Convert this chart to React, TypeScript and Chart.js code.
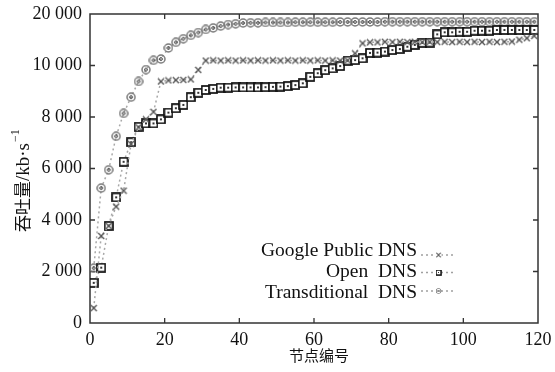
import React, { useEffect, useRef } from 'react';
import { Chart, registerables } from 'chart.js';

Chart.register(...registerables);

const nodes = [1, 3, 5, 7, 9, 11, 13, 15, 17, 19, 21, 23, 25, 27, 29, 31, 33, 35, 37, 39, 41, 43, 45, 47, 49, 51, 53, 55, 57, 59, 61, 63, 65, 67, 69, 71, 73, 75, 77, 79, 81, 83, 85, 87, 89, 91, 93, 95, 97, 99, 101, 103, 105, 107, 109, 111, 113, 115, 117, 119];

const googleDns = [580, 3380, 3770, 4520, 5140, 6950, 7600, 7910, 8200, 9380, 9420, 9430, 9440, 9460, 9830, 10190, 10200, 10190, 10200, 10190, 10200, 10190, 10200, 10190, 10200, 10190, 10200, 10190, 10200, 10190, 10200, 10190, 10200, 10190, 10200, 10470, 10860, 10900, 10900, 10920, 10910, 10920, 10910, 10920, 10910, 10920, 10910, 10920, 10910, 10920, 10910, 10920, 10910, 10920, 10910, 10920, 10930, 11000, 11060, 11150];

const openDns = [1560, 2150, 3770, 4880, 6260, 7020, 7620, 7750, 7750, 7910, 8170, 8340, 8470, 8770, 8940, 9050, 9090, 9140, 9140, 9150, 9150, 9150, 9150, 9160, 9170, 9180, 9200, 9240, 9310, 9560, 9700, 9820, 9890, 9980, 10190, 10210, 10280, 10490, 10500, 10540, 10600, 10640, 10730, 10800, 10880, 10890, 11210, 11290, 11290, 11310, 11310, 11350, 11350, 11350, 11380, 11380, 11380, 11380, 11380, 11380];

const transDns = [2130, 5240, 5950, 7250, 8140, 8770, 9380, 9840, 10200, 10250, 10680, 10900, 11040, 11170, 11280, 11400, 11460, 11530, 11590, 11620, 11650, 11660, 11660, 11670, 11670, 11670, 11670, 11680, 11680, 11680, 11680, 11680, 11680, 11690, 11690, 11690, 11690, 11690, 11690, 11700, 11700, 11700, 11700, 11700, 11700, 11700, 11700, 11700, 11700, 11700, 11700, 11700, 11700, 11700, 11700, 11700, 11700, 11700, 11700, 11700];

const xTickValues = [0, 20, 40, 60, 80, 100, 120];
const yTickLabels = ['0', '2 000', '4 000', '6 000', '8 000', '10 000', '20 000'];
const seriesNames = ['Google Public DNS', 'Open  DNS', 'Transditional  DNS'];
const xTitle = '节点编号';
const yTitleMain = '吞吐量';
const yTitleUnit = '/kb·s';
const yTitleSup = '−1';

const SERIF = "'Liberation Serif', 'Noto Sans CJK SC', serif";
const CJK = "'Noto Sans CJK SC', serif";

function makeCross(size: number) {
  const c = document.createElement('canvas');
  c.width = size; c.height = size;
  const g = c.getContext('2d')!;
  g.strokeStyle = '#555';
  g.lineWidth = 1.4;
  g.beginPath();
  g.moveTo(1, 1); g.lineTo(size - 1, size - 1);
  g.moveTo(size - 1, 1); g.lineTo(1, size - 1);
  g.stroke();
  return c;
}

function makeSquare(size: number) {
  const c = document.createElement('canvas');
  c.width = size; c.height = size;
  const g = c.getContext('2d')!;
  g.fillStyle = '#ffffff';
  g.fillRect(1, 1, size - 2, size - 2);
  g.strokeStyle = '#111';
  g.lineWidth = 1.7;
  g.strokeRect(1, 1, size - 2, size - 2);
  g.fillStyle = '#333';
  const m = size / 2;
  g.fillRect(m - 1, m - 1, 2, 2);
  return c;
}

function makeCircle(size: number) {
  const c = document.createElement('canvas');
  c.width = size; c.height = size;
  const g = c.getContext('2d')!;
  const m = size / 2;
  g.strokeStyle = '#7a7a7a';
  g.lineWidth = 1.5;
  g.beginPath();
  g.arc(m, m, m - 1, 0, Math.PI * 2);
  g.stroke();
  g.strokeStyle = '#3a3a3a';
  g.lineWidth = 1;
  g.beginPath();
  g.arc(m, m, 1.4, 0, Math.PI * 2);
  g.stroke();
  return c;
}

export default function App() {
  const ref = useRef<HTMLCanvasElement | null>(null);

  useEffect(() => {
    const canvas = ref.current;
    if (!canvas) return;
    const crossImg = makeCross(8);
    const squareImg = makeSquare(10);
    const circleImg = makeCircle(10);
    const markers = [crossImg, squareImg, circleImg];

    const toPts = (vals: number[]) => vals.map((v, i) => ({ x: nodes[i], y: v }));

    const framePlugin = {
      id: 'frame',
      beforeDatasetsDraw(chart: any) {
        const { ctx, chartArea: a, scales } = chart;
        ctx.save();
        ctx.strokeStyle = '#333';
        ctx.lineWidth = 1.5;
        ctx.strokeRect(a.left, a.top, a.right - a.left, a.bottom - a.top);
        ctx.lineWidth = 1.3;
        const tl = 5;
        ctx.beginPath();
        for (const v of xTickValues) {
          if (v === xTickValues[0] || v === xTickValues[xTickValues.length - 1]) continue;
          const px = scales.x.getPixelForValue(v);
          ctx.moveTo(px, a.bottom); ctx.lineTo(px, a.bottom - tl);
          ctx.moveTo(px, a.top); ctx.lineTo(px, a.top + tl);
        }
        for (let i = 1; i < yTickLabels.length - 1; i++) {
          const py = scales.y.getPixelForValue(i * 2000);
          ctx.moveTo(a.left, py); ctx.lineTo(a.left + tl, py);
          ctx.moveTo(a.right, py); ctx.lineTo(a.right - tl, py);
        }
        ctx.stroke();
        ctx.restore();
      },
      afterDraw(chart: any) {
        const { ctx, chartArea: a } = chart;
        ctx.save();
        // axis titles
        ctx.fillStyle = '#111';
        ctx.textBaseline = 'middle';
        ctx.textAlign = 'center';
        ctx.font = `15px ${CJK}`;
        ctx.fillText(xTitle, 319, 355);

        ctx.save();
        ctx.translate(23, 232);
        ctx.rotate(-Math.PI / 2);
        ctx.textAlign = 'left';
        ctx.font = `17px ${CJK}`;
        ctx.fillText(yTitleMain, 0, 0);
        let off = ctx.measureText(yTitleMain).width;
        ctx.font = `19px ${SERIF}`;
        ctx.fillText(yTitleUnit, off, 1);
        off += ctx.measureText(yTitleUnit).width + 1;
        ctx.font = `12px ${SERIF}`;
        ctx.fillText(yTitleSup, off, -7);
        ctx.restore();

        // legend
        ctx.font = `19.5px ${SERIF}`;
        ctx.textAlign = 'right';
        ctx.textBaseline = 'middle';
        const textY = [250.5, 271.5, 293];
        const lineY = [255, 272.5, 291];
        const textRight = 417;
        const lx0 = 421, lx1 = 456;
        for (let i = 0; i < seriesNames.length; i++) {
          ctx.fillStyle = '#111';
          ctx.fillText(seriesNames[i], textRight, textY[i]);
          ctx.strokeStyle = '#a0a0a0';
          ctx.lineWidth = 1.5;
          ctx.setLineDash([2, 3]);
          ctx.beginPath();
          ctx.moveTo(lx0, lineY[i]);
          ctx.lineTo(lx1, lineY[i]);
          ctx.stroke();
          ctx.setLineDash([]);
          const s = 6;
          ctx.fillStyle = '#fff';
          ctx.fillRect((lx0 + lx1) / 2 - s / 2, lineY[i] - s / 2, s, s);
          ctx.drawImage(markers[i], (lx0 + lx1) / 2 - s / 2, lineY[i] - s / 2, s, s);
        }
        ctx.restore();
      },
    };

    const mk = (label: string, vals: number[], img: HTMLCanvasElement) => ({
      label,
      data: toPts(vals),
      borderColor: '#a8a8a8',
      borderWidth: 1.5,
      borderDash: [2, 3],
      pointStyle: img,
      pointRadius: 4,
      showLine: true,
      fill: false,
      tension: 0,
    });

    const chart = new Chart(canvas, {
      type: 'scatter',
      data: {
        datasets: [
          mk(seriesNames[0], googleDns, crossImg),
          mk(seriesNames[1], openDns, squareImg),
          mk(seriesNames[2], transDns, circleImg),
        ],
      },
      options: {
        animation: false,
        responsive: false,
        devicePixelRatio: 1,
        layout: { padding: { left: 0, right: 17, top: 14, bottom: 0 } },
        plugins: { legend: { display: false }, tooltip: { enabled: false } },
        scales: {
          x: {
            type: 'linear',
            min: 0,
            max: 120,
            grid: { display: false, drawTicks: false },
            border: { display: false },
            ticks: {
              stepSize: 20,
              padding: 6,
              color: '#111',
              font: { family: SERIF, size: 18 },
              maxRotation: 0,
              callback: (v: any) => String(v),
            },
            title: { display: false },
            afterFit: (s: any) => {
              s.height = 49;
              s.paddingLeft = 0; s.paddingRight = 0; s.paddingTop = 0; s.paddingBottom = 0;
            },
          },
          y: {
            type: 'linear',
            min: 0,
            max: 12000,
            grid: { display: false, drawTicks: false },
            border: { display: false },
            ticks: {
              stepSize: 2000,
              padding: 8,
              color: '#111',
              font: { family: SERIF, size: 18 },
              callback: (_v: any, i: number) => yTickLabels[i],
            },
            title: { display: false },
            afterFit: (s: any) => {
              s.width = 90;
              s.paddingLeft = 0; s.paddingRight = 0; s.paddingTop = 0; s.paddingBottom = 0;
            },
          },
        },
      },
      plugins: [framePlugin],
    } as any);

    return () => chart.destroy();
  }, []);

  return (
    <div style={{ position: 'fixed', left: 0, top: 0, width: 555, height: 372, background: '#fff' }}>
      <canvas ref={ref} width={555} height={372} />
    </div>
  );
}
